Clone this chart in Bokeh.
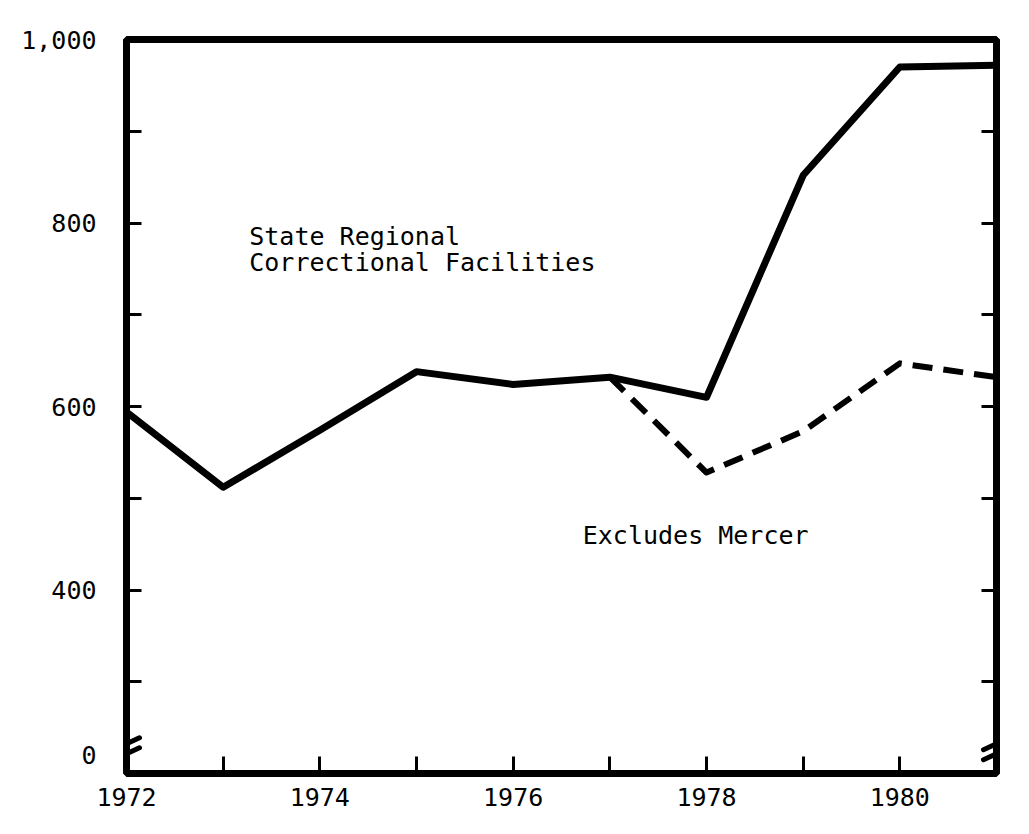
from bokeh.plotting import figure
from bokeh.models import Range1d, FixedTicker, LinearAxis
from bokeh.core.properties import value
from bokeh.embed import file_html
from bokeh.resources import INLINE

# ---- data ----
years = [1972, 1973, 1974, 1975, 1976, 1977, 1978, 1979, 1980, 1981]
state_regional = [594, 512, 574, 638, 624, 632, 610, 852, 970, 972]
mercer_years = [1977, 1978, 1979, 1980, 1981]
excludes_mercer = [632, 528, 573, 647, 632]

x_tick_labels = {1972: "1972", 1974: "1974", 1976: "1976", 1978: "1978", 1980: "1980"}
y_label_ticks = [220, 400, 600, 800, 1000]
y_tick_labels = {220: "0", 400: "400", 600: "600", 800: "800", 1000: "1,000"}
y_minor_ticks = [300, 400, 500, 600, 700, 800, 900]

FONT = "DejaVu Sans Mono"
FS = "25px"

p = figure(width=1008, height=823,
           x_range=Range1d(1972, 1981), y_range=Range1d(200, 1000),
           output_backend="svg", toolbar_location=None,
           min_border_left=126, min_border_right=12,
           min_border_top=39, min_border_bottom=50)

p.grid.visible = False
p.background_fill_color = "white"
p.border_fill_color = "white"
p.outline_line_color = "black"
p.outline_line_width = 7

# x axis
xa = p.xaxis[0]
xa.ticker = FixedTicker(ticks=years)
xa.major_label_overrides = {y: x_tick_labels.get(y, "") for y in years}
xa.axis_line_color = None
xa.major_tick_in = 17
xa.major_tick_out = 0
xa.major_tick_line_width = 3
xa.minor_tick_line_color = None
xa.major_label_standoff = 14
xa.major_label_text_font = FONT
xa.major_label_text_font_size = FS
xa.major_label_text_color = "black"

# left y axis: labels on major ticks, tick marks drawn as minor ticks
ya = p.yaxis[0]
ya.ticker = FixedTicker(ticks=y_label_ticks, minor_ticks=y_minor_ticks)
ya.major_label_overrides = y_tick_labels
ya.axis_line_color = None
ya.major_tick_line_color = None
ya.major_tick_in = 0
ya.major_tick_out = 0
ya.minor_tick_in = 15
ya.minor_tick_out = 0
ya.minor_tick_line_width = 3
ya.minor_tick_line_color = "black"
ya.major_label_standoff = 30
ya.major_label_text_font = FONT
ya.major_label_text_font_size = FS
ya.major_label_text_color = "black"

# right y axis (ticks only)
ra = LinearAxis(ticker=FixedTicker(ticks=y_minor_ticks))
ra.major_label_overrides = {t: "" for t in y_minor_ticks}
ra.axis_line_color = None
ra.major_tick_in = 15
ra.major_tick_out = 0
ra.major_tick_line_width = 3
ra.minor_tick_line_color = None
ra.major_label_standoff = 0
ra.major_label_text_font_size = "0px"
p.add_layout(ra, "right")

# axis-break marks
px_yr = 870 / 9.0
px_unit = 734 / 800.0
hx = 13 / px_yr
hy = 6 / px_unit
sep = 5 / px_unit
brk_y = 227
x0s, y0s, x1s, y1s = [], [], [], []
for bx in (1972, 1981):
    for s in (-sep, sep):
        x0s.append(bx - hx); y0s.append(brk_y + s - hy)
        x1s.append(bx + hx); y1s.append(brk_y + s + hy)
p.segment(x0s, y0s, x1s, y1s, line_color="black", line_width=5, line_cap="round")

# data lines
p.line(years, state_regional, line_color="black", line_width=7, line_join="round")
p.line(mercer_years, excludes_mercer, line_color="black", line_width=6,
       line_dash="20 11", line_join="round")

# annotations
p.text(x=[1973.27, 1973.27], y=[785, 757],
       text=["State Regional", "Correctional Facilities"],
       text_font=value(FONT), text_font_size=value(FS), text_color="black",
       text_align="left", text_baseline="alphabetic")
p.text(x=[1976.72], y=[459], text=["Excludes Mercer"],
       text_font=value(FONT), text_font_size=value(FS), text_color="black",
       text_align="left", text_baseline="alphabetic")

open("out.html", "w").write(file_html(p, INLINE))
